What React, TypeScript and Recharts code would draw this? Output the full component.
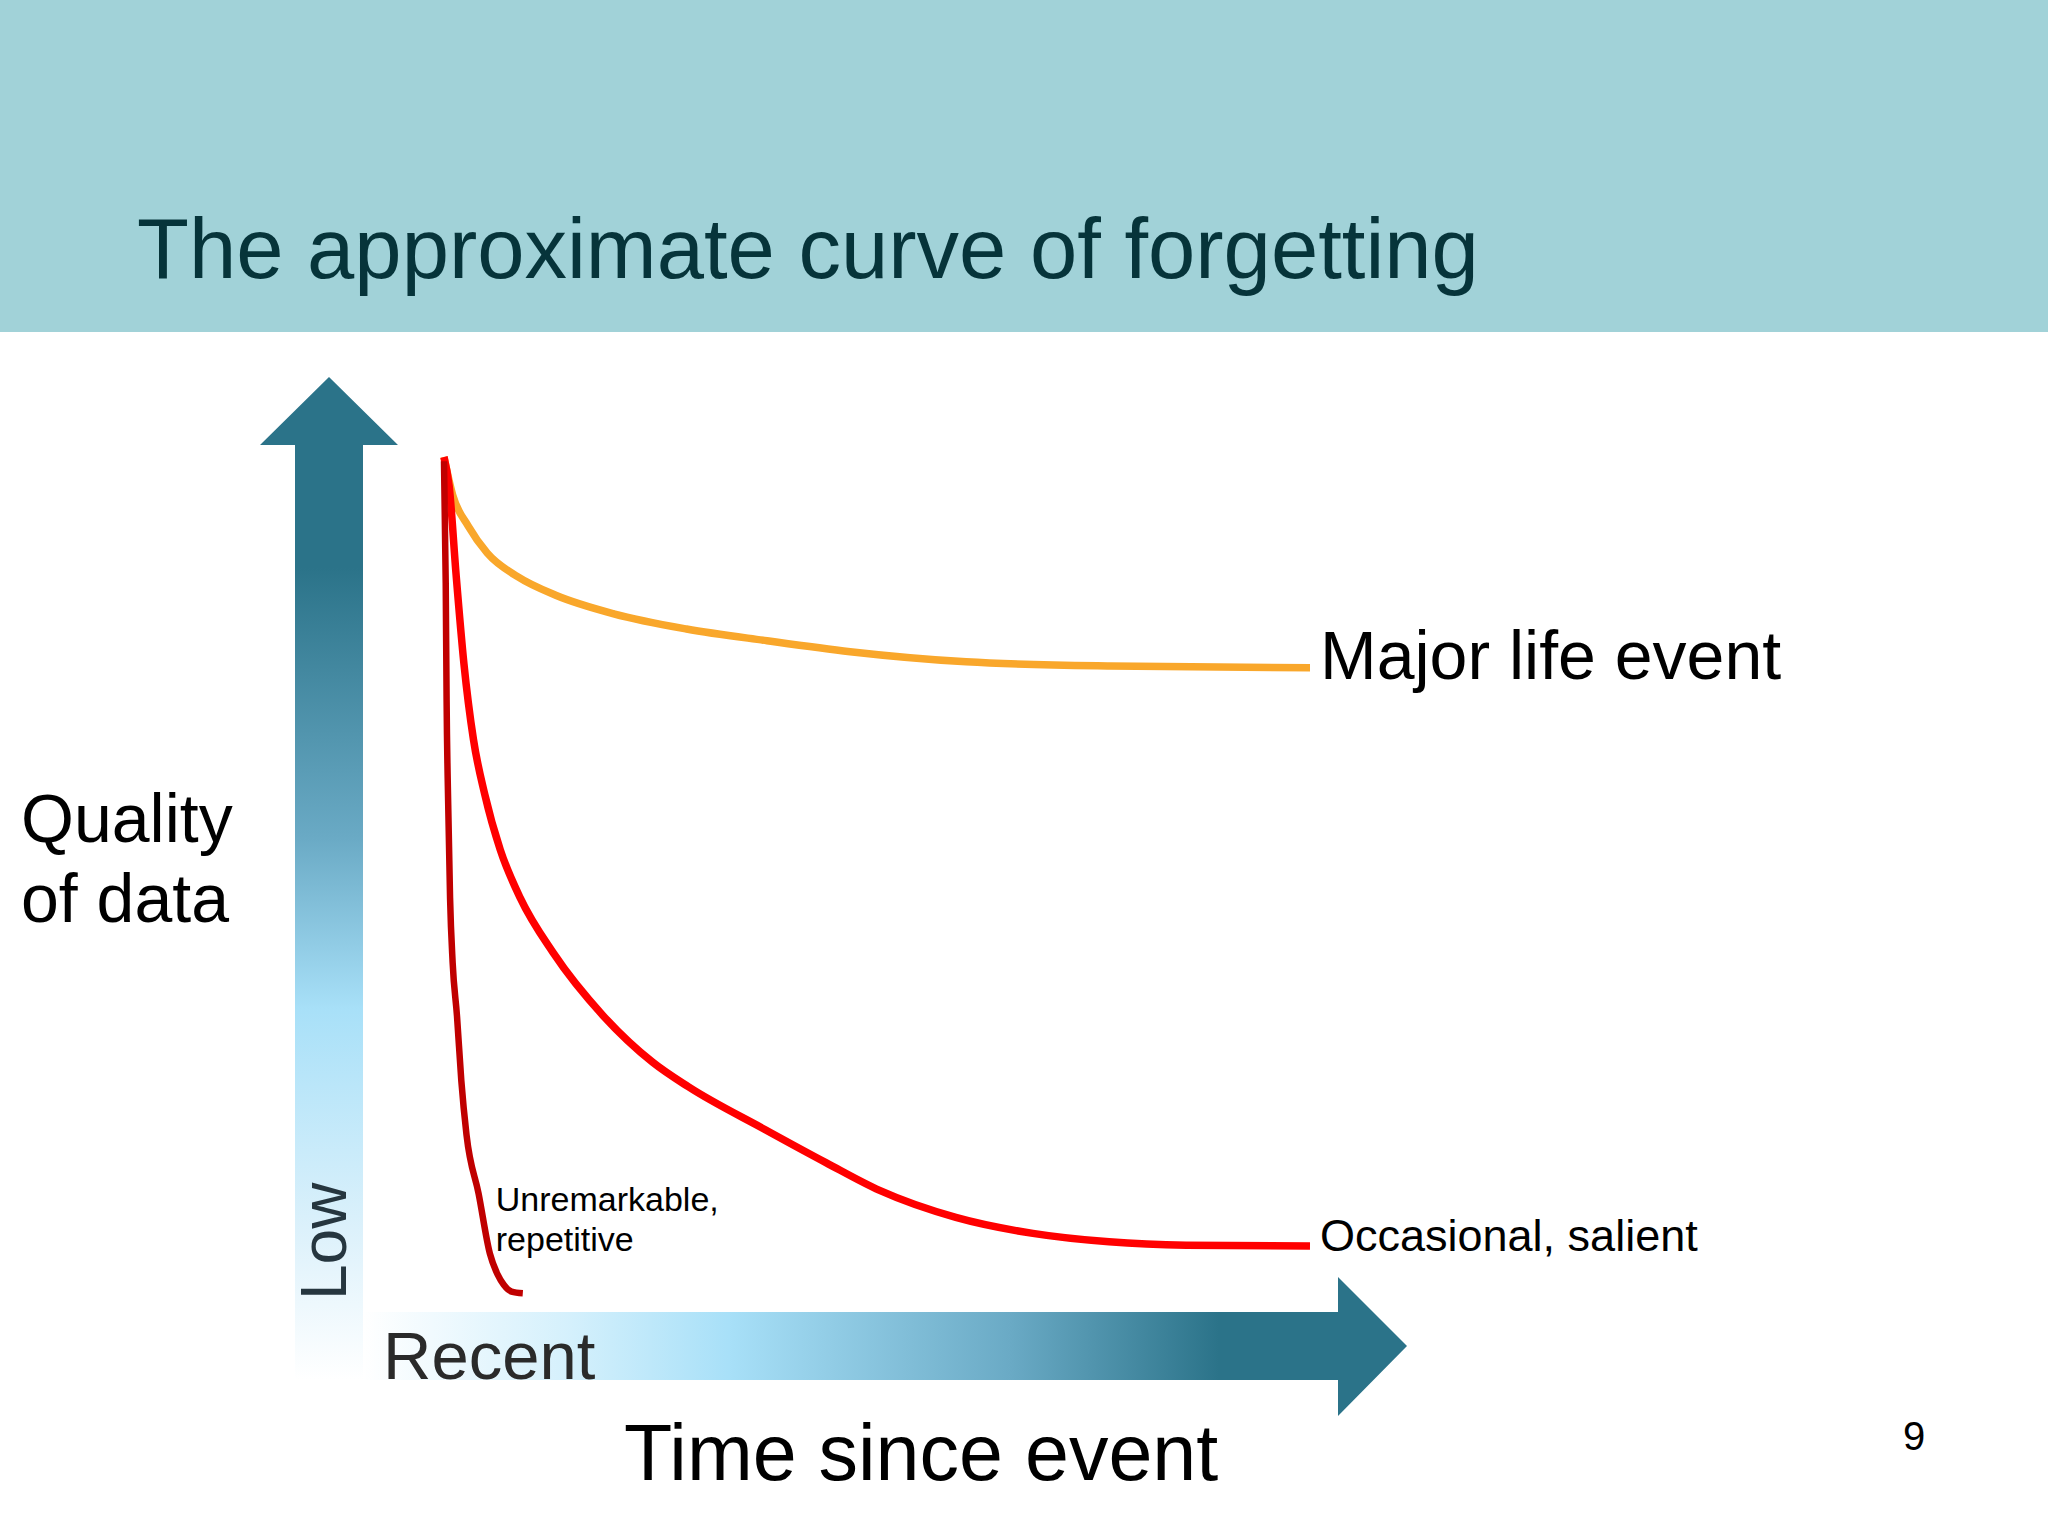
import { LineChart, Line, XAxis, YAxis } from "recharts";

// time since event (0 = recent, 100 = far), quality of recall (0 = low, 100 = high)
const MAJOR_TIME = [0, 1.0, 2.8, 5.0, 8.5, 12.9, 19.6, 28.0, 37.3, 46.9, 60.3, 76.9, 100];
const MAJOR_QUALITY = [100, 95.5, 91.8, 88.6, 85.8, 83.6, 81.4, 79.6, 78.2, 76.9, 75.7, 75.2, 75.0];

const SALIENT_TIME = [0, 0.6, 1.4, 2.3, 3.4, 4.7, 6.5, 8.8, 12.6, 18.4, 24.1, 28.2, 37.1, 44.1, 50.3, 59.1, 68.0, 76.8, 85.7, 100];
const SALIENT_QUALITY = [100, 96.5, 86, 75.5, 66.5, 60, 53.4, 47.7, 41.2, 33.7, 28.2, 25.3, 20.2, 16.3, 13.0, 9.8, 7.9, 6.9, 6.5, 6.4];

const ROUTINE_TIME = [0, 0.2, 0.3, 0.5, 0.7, 1.0, 1.5, 2.0, 2.6, 4.0, 5.3, 6.2, 6.9, 7.8, 9.1];
const ROUTINE_QUALITY = [99.5, 85, 71.2, 58, 47.7, 40, 33.7, 26, 19.6, 12.6, 5.5, 3.0, 1.8, 1.0, 0.8];

const TITLE = "The approximate curve of forgetting";
const FONT = "'Liberation Sans', Arial, sans-serif";

const toPoints = (t: number[], q: number[]) => t.map((time, i) => ({ time, quality: q[i] }));

const majorData = toPoints(MAJOR_TIME, MAJOR_QUALITY);
const salientData = toPoints(SALIENT_TIME, SALIENT_QUALITY);
const routineData = toPoints(ROUTINE_TIME, ROUTINE_QUALITY);

function endLabel(text: string, size: number, dy: number, count: number) {
  return (props: any) => {
    if (props.index !== count - 1) return null;
    return (
      <text
        key="end-label"
        x={props.x + 10}
        y={props.y + dy}
        fontSize={size}
        fontFamily={FONT}
        fill="#000"
      >
        {text}
      </text>
    );
  };
}

function routineLabel(props: any) {
  if (props.index !== routineData.length - 1) return null;
  return (
    <text key="routine-label" x={props.x - 27} y={props.y - 82} fontSize={34} fontFamily={FONT} fill="#000">
      <tspan x={props.x - 27}>Unremarkable,</tspan>
      <tspan x={props.x - 27} dy={40}>repetitive</tspan>
    </text>
  );
}

function Backdrop() {
  return (
    <svg width={2048} height={1536} style={{ position: "absolute", left: 0, top: 0 }}>
      <defs>
        <linearGradient id="upGrad" x1="0" y1="0" x2="0" y2="1">
          <stop offset="0" stopColor="#2b7389" />
          <stop offset="0.19" stopColor="#2b7389" />
          <stop offset="0.46" stopColor="#6aaac5" />
          <stop offset="0.63" stopColor="#a8e0f8" />
          <stop offset="0.85" stopColor="#dcf1fb" />
          <stop offset="1" stopColor="#ffffff" />
        </linearGradient>
        <linearGradient id="rightGrad" x1="0" y1="0" x2="1" y2="0">
          <stop offset="0" stopColor="#ffffff" />
          <stop offset="0.2" stopColor="#d4f0fc" />
          <stop offset="0.35" stopColor="#a8e0f8" />
          <stop offset="0.62" stopColor="#6aaac5" />
          <stop offset="0.82" stopColor="#2b7389" />
          <stop offset="1" stopColor="#2b7389" />
        </linearGradient>
      </defs>
      <rect x={0} y={0} width={2048} height={332} fill="#a1d2d8" />
      <text x={137} y={278} fontSize={85} fontFamily={FONT} fill="#06343a">
        {TITLE}
      </text>
      <polygon
        points="329,377 398,445 363,445 363,1380 295,1380 295,445 260,445"
        fill="url(#upGrad)"
      />
      <polygon
        points="363,1312 1338,1312 1338,1277 1407,1346 1338,1416 1338,1380 363,1380"
        fill="url(#rightGrad)"
      />
      <text transform="translate(346,1300) rotate(-90)" fontSize={64} fontFamily={FONT} fill="#26363f">
        Low
      </text>
      <text x={383} y={1379} fontSize={67} fontFamily={FONT} fill="#2a2a2a">
        Recent
      </text>
      <text x={624} y={1480} fontSize={79} fontFamily={FONT} fill="#000">
        Time since event
      </text>
      <text fontSize={68} fontFamily={FONT} fill="#000">
        <tspan x={21} y={842}>Quality</tspan>
        <tspan x={21} y={922}>of data</tspan>
      </text>
      <text x={1903} y={1450} fontSize={40} fontFamily={FONT} fill="#000">
        9
      </text>
    </svg>
  );
}

export default function App() {
  return (
    <div
      style={{
        position: "absolute",
        left: 0,
        top: 0,
        width: 2048,
        height: 1536,
        background: "#ffffff",
        overflow: "hidden",
      }}
    >
      <Backdrop />
      <div style={{ position: "absolute", left: 0, top: 0 }}>
        <LineChart
          width={2048}
          height={1536}
          margin={{ top: 457, right: 738, bottom: 236, left: 444 }}
        >
          <XAxis type="number" dataKey="time" domain={[0, 100]} hide allowDuplicatedCategory={false} />
          <YAxis type="number" dataKey="quality" domain={[0, 100]} hide />
          <Line
            data={majorData}
            dataKey="quality"
            type="monotone"
            stroke="#f9a72b"
            strokeWidth={7.5}
            dot={false}
            isAnimationActive={false}
            label={endLabel("Major life event", 68, 11, majorData.length)}
          />
          <Line
            data={salientData}
            dataKey="quality"
            type="monotone"
            stroke="#ff0000"
            strokeWidth={7.5}
            dot={false}
            isAnimationActive={false}
            label={endLabel("Occasional, salient", 45, 5, salientData.length)}
          />
          <Line
            data={routineData}
            dataKey="quality"
            type="monotone"
            stroke="#c00000"
            strokeWidth={6.5}
            dot={false}
            isAnimationActive={false}
            label={routineLabel}
          />
        </LineChart>
      </div>
    </div>
  );
}
